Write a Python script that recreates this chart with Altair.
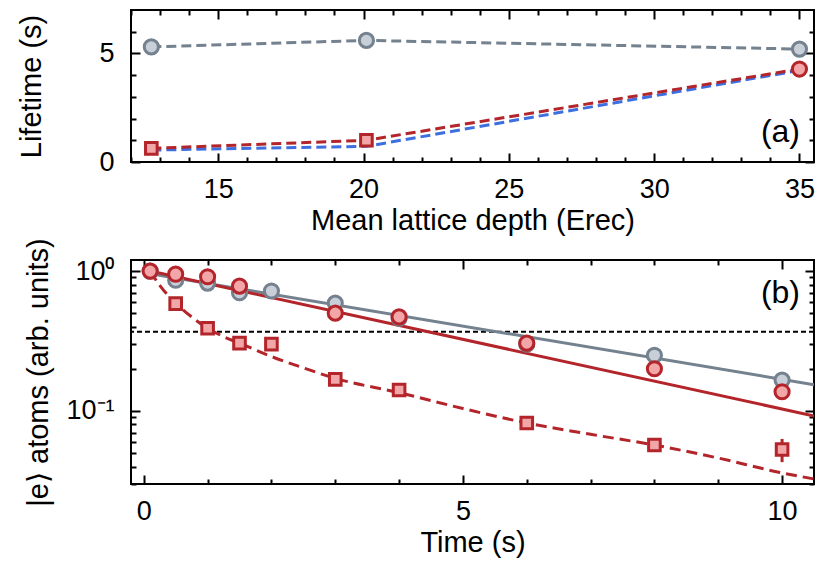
import altair as alt
import pandas as pd

# ---------------- data: panel (a) ----------------
depth = [12.7, 20.1, 35.0]
life_gray = [5.3, 5.6, 5.2]
life_red = [0.63, 1.0, 4.28]
life_blue = [0.55, 0.72, 4.22]
red_marker = ["square", "square", "circle"]

# ---------------- data: panel (b) ----------------
t_gray = [0.1, 0.5, 1, 1.5, 2, 3, 4, 6, 8, 10]
n_gray = [1.0, 0.86, 0.82, 0.70, 0.72, 0.59, 0.46, 0.30, 0.25, 0.166]
t_circ = [0.1, 0.5, 1, 1.5, 3, 4, 6, 8, 10]
n_circ = [1.0, 0.95, 0.91, 0.78, 0.50, 0.47, 0.305, 0.20, 0.137]
t_sq = [0.5, 1, 1.5, 2, 3, 4, 6, 8, 10]
n_sq = [0.585, 0.39, 0.305, 0.30, 0.168, 0.141, 0.082, 0.057, 0.053]
err_sq = [0.01, 0.008, 0.006, 0.006, 0.004, 0.004, 0.003, 0.003, 0.010]

t_fit_gray = [0.1, 10.5]
n_fit_gray = [0.955, 0.154]
t_fit_red = [0.1, 10.5]
n_fit_red = [1.0, 0.092]
t_fit_dash = [0.1, 0.25, 0.5, 0.75, 1, 1.25, 1.5, 2, 2.5, 3, 4, 5, 6, 7, 8, 9, 10, 10.5]
n_fit_dash = [1.0, 0.79, 0.59, 0.47, 0.39, 0.34, 0.305, 0.245, 0.203, 0.171, 0.135,
              0.104, 0.082, 0.068, 0.057, 0.046, 0.036, 0.0326]
e_fold = [0.368]

# ---------------- ticks ----------------
xa_major = [15, 20, 25, 30, 35]
xa_minor = [12, 13, 14, 16, 17, 18, 19, 21, 22, 23, 24, 26, 27, 28, 29, 31, 32, 33, 34]
ya_major = [0, 5]
ya_minor = [1, 2, 3, 4, 6]
xb_major = [0, 5, 10]
xb_minor = [1, 2, 3, 4, 6, 7, 8, 9]
yb_major = [0.1, 1.0]
yb_minor = [0.03, 0.04, 0.05, 0.06, 0.07, 0.08, 0.09,
            0.2, 0.3, 0.4, 0.5, 0.6, 0.7, 0.8, 0.9]

FONT = "Liberation Sans"
RED = "#b3252a"
RED_FILL = "#f2a6a8"
GRAY = "#74818e"
GRAY_FILL = "#c9cfd8"
BLUE = "#3d6fe0"

W = 683
HA = 152
HB = 224
MAJ = 9   # tick length, px
MIN = 5


def make_axis(values, orient, L, title=None, labels=False, label_expr=None,
              label_pad=14, title_pad=4):
    # axis moved inside the frame by its tick length so that the ticks point inward
    kw = dict(values=values, orient=orient, ticks=True, tickSize=L, offset=-L,
              tickColor="black", tickWidth=2, tickOpacity=1, domain=False, grid=False,
              labels=labels, title=title)
    if labels:
        kw["labelPadding"] = label_pad
        kw["titlePadding"] = title_pad
        if label_expr:
            kw["labelExpr"] = label_expr
    return alt.Axis(**kw)


# ---------------- panel (a) ----------------
df_a = pd.DataFrame({"depth": depth, "gray": life_gray, "red": life_red,
                     "blue": life_blue, "marker": red_marker})
xs_a = alt.Scale(domain=[12, 35.5], nice=False, zero=False)
ys_a = alt.Scale(domain=[0, 7], nice=False, zero=False)

base_a = alt.Chart(df_a)
dash_a = [10, 5]

gray_line_a = base_a.mark_line(color=GRAY, strokeWidth=3, strokeDash=dash_a).encode(
    x=alt.X("depth:Q", scale=xs_a,
            axis=make_axis(xa_major, "bottom", MAJ, "Mean lattice depth (Erec)", True,
                           label_pad=14, title_pad=4)),
    y=alt.Y("gray:Q", scale=ys_a,
            axis=make_axis(ya_major, "left", MAJ, "Lifetime (s)", True,
                           label_pad=17, title_pad=52)),
)
blue_line_a = base_a.mark_line(color=BLUE, strokeWidth=3, strokeDash=dash_a).encode(
    x=alt.X("depth:Q", scale=xs_a, axis=make_axis(xa_minor, "bottom", MIN)),
    y=alt.Y("blue:Q", scale=ys_a, axis=make_axis(ya_minor, "left", MIN)),
)
red_line_a = base_a.mark_line(color=RED, strokeWidth=3, strokeDash=dash_a).encode(
    x=alt.X("depth:Q", scale=xs_a, axis=make_axis(xa_major, "top", MAJ)),
    y=alt.Y("red:Q", scale=ys_a, axis=make_axis(ya_major, "right", MAJ)),
)
gray_pts_a = base_a.mark_point(shape="circle", filled=True, fill=GRAY_FILL, stroke=GRAY,
                               strokeWidth=3, size=200, opacity=1).encode(
    x=alt.X("depth:Q", scale=xs_a, axis=make_axis(xa_minor, "top", MIN)),
    y=alt.Y("gray:Q", scale=ys_a, axis=make_axis(ya_minor, "right", MIN)),
)
red_sq_a = base_a.transform_filter("datum.marker === 'square'").mark_point(
    shape="square", filled=True, fill=RED_FILL, stroke=RED, strokeWidth=3, size=135, opacity=1
).encode(
    x=alt.X("depth:Q", scale=xs_a, axis=None),
    y=alt.Y("red:Q", scale=ys_a, axis=None),
)
red_circ_a = base_a.transform_filter("datum.marker === 'circle'").mark_point(
    shape="circle", filled=True, fill=RED_FILL, stroke=RED, strokeWidth=3, size=200, opacity=1
).encode(
    x=alt.X("depth:Q", scale=xs_a, axis=None),
    y=alt.Y("red:Q", scale=ys_a, axis=None),
)
label_a = alt.Chart(pd.DataFrame({"t": ["(a)"]})).mark_text(
    align="right", baseline="middle", font=FONT, fontSize=32, color="black"
).encode(text="t:N", x=alt.value(W - 14), y=alt.value(HA - 30))

panel_a = alt.layer(
    gray_line_a, blue_line_a, red_line_a, gray_pts_a, red_sq_a, red_circ_a, label_a
).resolve_axis(x="independent", y="independent").properties(width=W, height=HA)

# ---------------- panel (b) ----------------
xs_b = alt.Scale(domain=[-0.2, 10.5], nice=False, zero=False)
ys_b = alt.Scale(type="log", domain=[0.03, 1.2], nice=False)

df_gray = pd.DataFrame({"t": t_gray, "n": n_gray})
df_circ = pd.DataFrame({"t": t_circ, "n": n_circ})
df_sq = pd.DataFrame({"t": t_sq, "n": n_sq, "e": err_sq})
df_sq["lo"] = df_sq["n"] - df_sq["e"]
df_sq["hi"] = df_sq["n"] + df_sq["e"]
df_fg = pd.DataFrame({"t": t_fit_gray, "n": n_fit_gray})
df_fr = pd.DataFrame({"t": t_fit_red, "n": n_fit_red})
df_fd = pd.DataFrame({"t": t_fit_dash, "n": n_fit_dash})
df_e = pd.DataFrame({"n": e_fold})

efold_rule = alt.Chart(df_e).mark_rule(color="black", strokeWidth=2, strokeDash=[5, 3]).encode(
    y=alt.Y("n:Q", scale=ys_b, axis=None)
)
fit_gray = alt.Chart(df_fg).mark_line(color=GRAY, strokeWidth=3, clip=True).encode(
    x=alt.X("t:Q", scale=xs_b,
            axis=make_axis(xb_major, "bottom", MAJ, "Time (s)", True, label_pad=14, title_pad=4)),
    y=alt.Y("n:Q", scale=ys_b,
            axis=make_axis(yb_major, "left", MAJ, "|e⟩ atoms (arb. units)", True,
                           label_expr="datum.value === 1 ? '10⁰' : '10⁻¹'",
                           label_pad=17, title_pad=12)),
)
fit_red = alt.Chart(df_fr).mark_line(color=RED, strokeWidth=3, clip=True).encode(
    x=alt.X("t:Q", scale=xs_b, axis=make_axis(xb_minor, "bottom", MIN)),
    y=alt.Y("n:Q", scale=ys_b, axis=make_axis(yb_minor, "left", MIN)),
)
fit_dash = alt.Chart(df_fd).mark_line(color=RED, strokeWidth=3, strokeDash=[11, 6],
                                      interpolate="monotone", clip=True).encode(
    x=alt.X("t:Q", scale=xs_b, axis=make_axis(xb_major, "top", MAJ)),
    y=alt.Y("n:Q", scale=ys_b, axis=make_axis(yb_major, "right", MAJ)),
)
gray_pts_b = alt.Chart(df_gray).mark_point(shape="circle", filled=True, fill=GRAY_FILL,
                                           stroke=GRAY, strokeWidth=3, size=200, opacity=1).encode(
    x=alt.X("t:Q", scale=xs_b, axis=make_axis(xb_minor, "top", MIN)),
    y=alt.Y("n:Q", scale=ys_b, axis=make_axis(yb_minor, "right", MIN)),
)
err_b = alt.Chart(df_sq).mark_rule(color=RED, strokeWidth=3).encode(
    x=alt.X("t:Q", scale=xs_b, axis=None),
    y=alt.Y("lo:Q", scale=ys_b, axis=None),
    y2="hi:Q",
)
sq_b = alt.Chart(df_sq).mark_point(shape="square", filled=True, fill=RED_FILL, stroke=RED,
                                   strokeWidth=3, size=135, opacity=1).encode(
    x=alt.X("t:Q", scale=xs_b, axis=None),
    y=alt.Y("n:Q", scale=ys_b, axis=None),
)
circ_b = alt.Chart(df_circ).mark_point(shape="circle", filled=True, fill=RED_FILL, stroke=RED,
                                       strokeWidth=3, size=200, opacity=1).encode(
    x=alt.X("t:Q", scale=xs_b, axis=None),
    y=alt.Y("n:Q", scale=ys_b, axis=None),
)
label_b = alt.Chart(pd.DataFrame({"t": ["(b)"]})).mark_text(
    align="right", baseline="middle", font=FONT, fontSize=32, color="black"
).encode(text="t:N", x=alt.value(W - 14), y=alt.value(33))

panel_b = alt.layer(
    efold_rule, fit_gray, fit_red, fit_dash, gray_pts_b, err_b, sq_b, circ_b, label_b
).resolve_axis(x="independent", y="independent").properties(width=W, height=HB)

chart = alt.vconcat(panel_a, panel_b, spacing=0).properties(
    padding={"left": 8, "top": 0, "right": 5, "bottom": 0}
).configure_view(
    stroke="black", strokeWidth=2
).configure_axis(
    labelFont=FONT, labelFontSize=27, labelColor="black",
    titleFont=FONT, titleFontSize=29, titleFontWeight="normal", titleColor="black",
)

chart.save("out.html", embed_options={"renderer": "svg", "actions": False})
